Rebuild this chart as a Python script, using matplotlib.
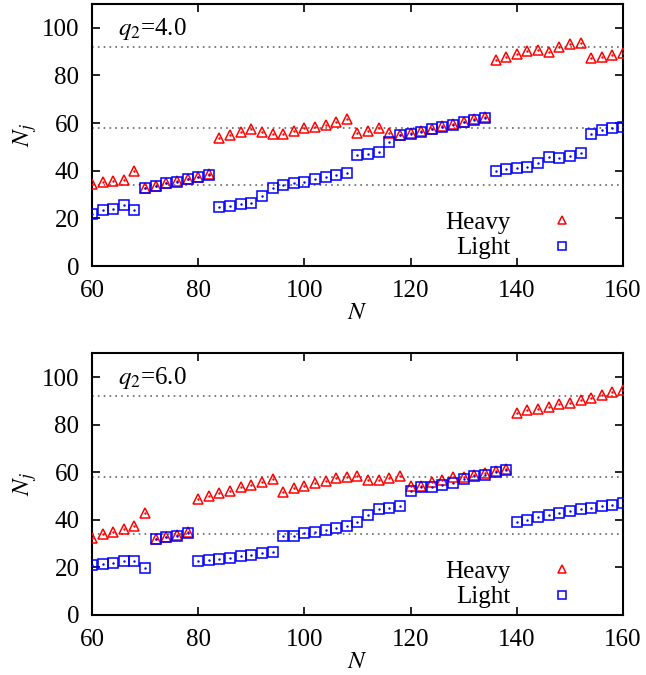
import numpy as np
import matplotlib
matplotlib.use("Agg")
import matplotlib.pyplot as plt

plt.rcParams['font.family'] = ['Liberation Serif', 'DejaVu Serif']
plt.rcParams['mathtext.fontset'] = 'stix'
plt.rcParams['font.size'] = 18

# N values (even numbers 60..160)
N = np.arange(60, 161, 2)

heavy_q4 = [34.6, 35.2, 35.7, 36.1, 40.0,
            32.6, 33.6, 34.7, 35.7, 36.6, 37.5, 38.7,
            53.6, 55.0, 56.3, 57.6, 56.3, 55.3,
            55.3, 56.7, 57.8, 58.5, 59.4, 60.5, 61.8,
            55.7, 56.9, 58.0, 55.7, 55.0, 55.9, 56.6, 57.7, 58.7, 59.7, 60.5,
            61.6, 62.5,
            86.6, 87.7, 88.9, 90.3, 90.6, 89.9, 92.0, 93.4, 93.6, 87.5, 87.7, 88.7, 89.6]
light_q4 = [21.7, 23.4, 23.9, 25.5, 23.7,
            32.6, 33.7, 34.7, 35.4, 36.4, 37.4, 38.4,
            24.9, 25.3, 26.1, 26.6, 29.5, 32.6,
            34.0, 34.9, 35.4, 36.7, 37.5, 38.4, 39.1,
            46.6, 47.2, 48.0, 52.2, 55.0, 55.5, 56.4, 57.4, 58.5, 59.4, 60.4,
            61.3, 62.3,
            40.0, 40.6, 41.2, 41.7, 43.4, 45.9, 45.4, 46.1, 47.6, 55.5, 57.1, 57.8, 58.5]

heavy_q6 = [32.2, 34.0, 35.0, 36.1, 37.6, 42.8,
            31.9, 32.9, 33.7, 34.8,
            48.7, 50.1, 51.2, 52.2, 53.6, 54.7, 55.9, 57.1,
            51.5, 53.3, 54.4, 55.5, 56.5, 57.6, 58.0, 58.5, 56.9, 56.7, 57.4, 58.6,
            54.1, 54.1, 55.9, 56.9, 57.8, 57.8, 58.7, 59.5, 60.4, 61.3,
            84.9, 86.2, 86.4, 87.4, 88.7, 89.1, 90.2, 91.4, 92.6, 93.7, 94.7]
light_q6 = [21.0, 21.3, 21.9, 22.7, 22.8, 19.6,
            31.8, 32.6, 33.4, 34.5,
            22.5, 23.1, 23.5, 24.1, 24.8, 25.3, 25.9, 26.6,
            33.3, 33.3, 34.3, 35.0, 35.7, 36.5, 37.6, 39.0, 42.1, 44.4, 44.9, 45.7,
            52.2, 53.6, 53.6, 54.7, 55.5, 57.2, 58.3, 58.9, 60.0, 60.8,
            39.2, 39.9, 41.3, 42.1, 42.7, 43.8, 44.4, 45.0, 45.7, 46.4, 46.9]

magic = [34, 58, 92]
panels = [("$q_2$=4.0", heavy_q4, light_q4), ("$q_2$=6.0", heavy_q6, light_q6)]
positions = [[0.1424, 0.6059, 0.822, 0.3881], [0.1424, 0.0889, 0.822, 0.3877]]


def draw_panel(ax, label, heavy, light):
    for m in magic:
        ax.axhline(m, color='#666666', ls=(0, (1, 2.5)), lw=1.2, zorder=1)
    ax.plot(N, heavy, ls='none', marker='^', ms=7.5, mfc='none', mec='red', mew=1.1, label='Heavy', zorder=3)
    ax.plot(N, light, ls='none', marker='s', ms=7, mfc='none', mec='blue', mew=1.1, label='Light', zorder=3)
    # gnuplot-style centre dots
    ax.plot(N, heavy, ls='none', marker='.', ms=1.5, color='red', zorder=4)
    ax.plot(N, light, ls='none', marker='.', ms=1.5, color='blue', zorder=4)

    ax.set_xlim(60, 160)
    ax.set_ylim(0, 110)
    ax.set_xticks(np.arange(60, 161, 20))
    ax.set_yticks(np.arange(0, 101, 20))
    ax.tick_params(direction='in', length=6, width=1.2, top=True, right=True)
    ax.tick_params(axis='x', pad=10)
    ax.tick_params(axis='y', pad=9)
    for s in ax.spines.values():
        s.set_linewidth(1.5)
    ax.set_xlabel('$N$', labelpad=0)
    ax.set_ylabel('$N_j$', labelpad=2)
    ax.text(0.049, 0.905, label, transform=ax.transAxes, va='center', ha='left')
    ax.legend(loc='lower right', bbox_to_anchor=(0.92, 0.025), frameon=False, markerfirst=False,
              handlelength=1.5, handletextpad=1.3, labelspacing=0.12, borderaxespad=0,
              borderpad=0, markerscale=0.85)


fig = plt.figure(figsize=(6.46, 6.75), dpi=100)
for pos, (label, heavy, light) in zip(positions, panels):
    ax = fig.add_axes(pos)
    draw_panel(ax, label, heavy, light)

plt.savefig("out.png", dpi=100)
